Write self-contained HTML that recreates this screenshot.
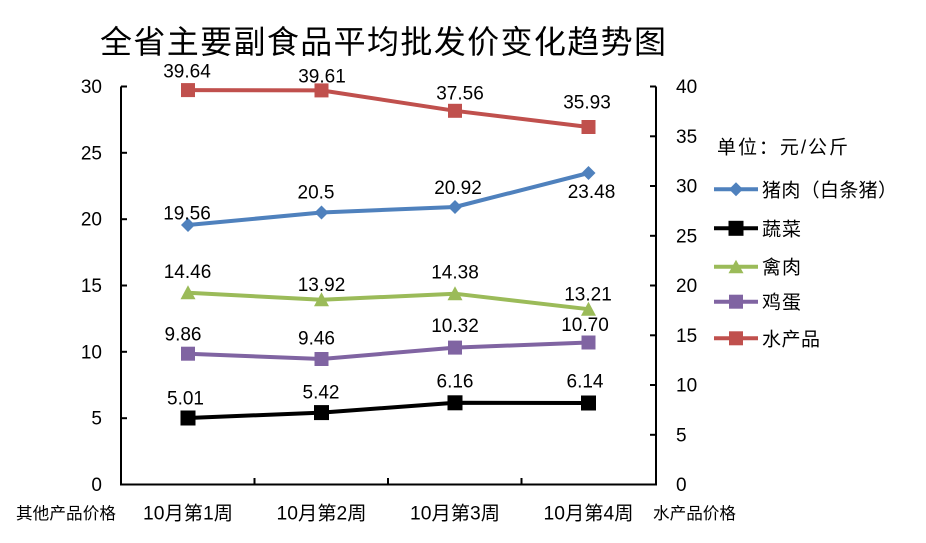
<!DOCTYPE html>
<html>
<head>
<meta charset="utf-8">
<style>
  html, body { margin: 0; padding: 0; background: #ffffff; }
  body { width: 926px; height: 543px; overflow: hidden; }
  svg { display: block; }
  .n { font-family: "Liberation Sans", "Noto Sans CJK SC", sans-serif; font-size: 19px; fill: #000; }
  .c { font-family: "Liberation Sans", "Noto Sans CJK SC", sans-serif; fill: #000; }
</style>
</head>
<body>
<svg width="926" height="543" viewBox="0 0 926 543" xmlns="http://www.w3.org/2000/svg">
  <rect width="926" height="543" fill="#ffffff"/>

  <!-- Title -->
  <text x="100" y="53" class="c" font-size="32" textLength="566" lengthAdjust="spacing">全省主要副食品平均批发价变化趋势图</text>

  <!-- Axes -->
  <g stroke="#000" stroke-width="2" fill="none">
    <line x1="121" y1="86.5" x2="121" y2="485.5"/>
    <line x1="656" y1="86.5" x2="656" y2="485.5"/>
    <line x1="120" y1="484.5" x2="657" y2="484.5"/>
    <line x1="121" y1="86.5" x2="127" y2="86.5"/>
    <line x1="121" y1="152.8" x2="127" y2="152.8"/>
    <line x1="121" y1="219.2" x2="127" y2="219.2"/>
    <line x1="121" y1="285.5" x2="127" y2="285.5"/>
    <line x1="121" y1="351.8" x2="127" y2="351.8"/>
    <line x1="121" y1="418.2" x2="127" y2="418.2"/>
    <line x1="650" y1="86.5" x2="656" y2="86.5"/>
    <line x1="650" y1="136.3" x2="656" y2="136.3"/>
    <line x1="650" y1="186" x2="656" y2="186"/>
    <line x1="650" y1="235.8" x2="656" y2="235.8"/>
    <line x1="650" y1="285.5" x2="656" y2="285.5"/>
    <line x1="650" y1="335.3" x2="656" y2="335.3"/>
    <line x1="650" y1="385" x2="656" y2="385"/>
    <line x1="650" y1="434.8" x2="656" y2="434.8"/>
    <line x1="254.5" y1="478" x2="254.5" y2="484.5"/>
    <line x1="388" y1="478" x2="388" y2="484.5"/>
    <line x1="521.5" y1="478" x2="521.5" y2="484.5"/>
  </g>

  <!-- Left axis labels -->
  <g class="n" text-anchor="end">
    <text x="102" y="93">30</text>
    <text x="102" y="159.3">25</text>
    <text x="102" y="225.7">20</text>
    <text x="102" y="292">15</text>
    <text x="102" y="358.3">10</text>
    <text x="102" y="424.7">5</text>
    <text x="102" y="491">0</text>
  </g>
  <!-- Right axis labels -->
  <g class="n" text-anchor="start">
    <text x="676" y="93">40</text>
    <text x="676" y="142.8">35</text>
    <text x="676" y="192.5">30</text>
    <text x="676" y="242.3">25</text>
    <text x="676" y="292">20</text>
    <text x="676" y="341.8">15</text>
    <text x="676" y="391.5">10</text>
    <text x="676" y="441.3">5</text>
    <text x="676" y="491">0</text>
  </g>

  <!-- Category labels -->
  <g class="c" font-size="19">
    <text x="143" y="519.5" textLength="90" lengthAdjust="spacingAndGlyphs">10月第1周</text>
    <text x="276.5" y="519.5" textLength="90" lengthAdjust="spacingAndGlyphs">10月第2周</text>
    <text x="410" y="519.5" textLength="90" lengthAdjust="spacingAndGlyphs">10月第3周</text>
    <text x="543.5" y="519.5" textLength="90" lengthAdjust="spacingAndGlyphs">10月第4周</text>
  </g>
  <text x="16" y="519" class="c" font-size="16.6" textLength="100" lengthAdjust="spacing">其他产品价格</text>
  <text x="653" y="519" class="c" font-size="16.6" textLength="83" lengthAdjust="spacing">水产品价格</text>

  <!-- Series: 水产品 (right axis) -->
  <polyline points="188,90.1 321.5,90.4 455,110.8 588.5,127" fill="none" stroke="#c0504d" stroke-width="4" stroke-linejoin="round"/>
  <g fill="#c0504d">
    <rect x="181" y="83.1" width="14" height="14"/>
    <rect x="314.5" y="83.4" width="14" height="14"/>
    <rect x="448" y="103.8" width="14" height="14"/>
    <rect x="581.5" y="120" width="14" height="14"/>
  </g>

  <!-- Series: 猪肉 -->
  <polyline points="188,225 321.5,212.5 455,207 588.5,173" fill="none" stroke="#4f81bd" stroke-width="4" stroke-linejoin="round"/>
  <g fill="#4f81bd">
    <polygon points="188,218 195,225 188,232 181,225"/>
    <polygon points="321.5,205.5 328.5,212.5 321.5,219.5 314.5,212.5"/>
    <polygon points="455,200 462,207 455,214 448,207"/>
    <polygon points="588.5,166 595.5,173 588.5,180 581.5,173"/>
  </g>

  <!-- Series: 禽肉 -->
  <polyline points="188,292.7 321.5,299.8 455,293.7 588.5,309.2" fill="none" stroke="#9bbb59" stroke-width="4" stroke-linejoin="round"/>
  <g fill="#9bbb59">
    <polygon points="188,285.2 195.5,299.2 180.5,299.2"/>
    <polygon points="321.5,292.3 329,306.3 314,306.3"/>
    <polygon points="455,286.2 462.5,300.2 447.5,300.2"/>
    <polygon points="588.5,301.7 596,315.7 581,315.7"/>
  </g>

  <!-- Series: 鸡蛋 -->
  <polyline points="188,353.7 321.5,359 455,347.6 588.5,342.5" fill="none" stroke="#8064a2" stroke-width="4" stroke-linejoin="round"/>
  <g fill="#8064a2">
    <rect x="181" y="346.7" width="14" height="14"/>
    <rect x="314.5" y="352" width="14" height="14"/>
    <rect x="448" y="340.6" width="14" height="14"/>
    <rect x="581.5" y="335.5" width="14" height="14"/>
  </g>

  <!-- Series: 蔬菜 -->
  <polyline points="188,418 321.5,412.6 455,402.8 588.5,403" fill="none" stroke="#000000" stroke-width="4" stroke-linejoin="round"/>
  <g fill="#000000">
    <rect x="180.5" y="410.5" width="15" height="15"/>
    <rect x="314" y="405.1" width="15" height="15"/>
    <rect x="447.5" y="395.3" width="15" height="15"/>
    <rect x="581" y="395.5" width="15" height="15"/>
  </g>

  <!-- Data labels -->
  <g class="n" text-anchor="middle">
    <text x="187" y="77.5">39.64</text>
    <text x="322" y="82.5">39.61</text>
    <text x="460" y="99.5">37.56</text>
    <text x="587" y="108.5">35.93</text>

    <text x="187" y="219.5">19.56</text>
    <text x="316" y="198.5">20.5</text>
    <text x="458" y="194">20.92</text>
    <text x="591.5" y="198">23.48</text>

    <text x="187.5" y="278">14.46</text>
    <text x="321.5" y="291">13.92</text>
    <text x="455" y="278.5">14.38</text>
    <text x="588" y="300.5">13.21</text>

    <text x="183" y="340.5">9.86</text>
    <text x="316.5" y="344.5">9.46</text>
    <text x="455" y="332">10.32</text>
    <text x="585" y="331">10.70</text>

    <text x="185.5" y="404.5">5.01</text>
    <text x="321" y="398.5">5.42</text>
    <text x="455" y="387.5">6.16</text>
    <text x="585" y="387.5">6.14</text>
  </g>

  <!-- Legend -->
  <text x="717" y="153.5" class="c" font-size="19" textLength="131" lengthAdjust="spacing">单位：元/公斤</text>
  <g>
    <line x1="714" y1="189.3" x2="758" y2="189.3" stroke="#4f81bd" stroke-width="4"/>
    <polygon points="736,182.3 743,189.3 736,196.3 729,189.3" fill="#4f81bd"/>
    <text x="762" y="196.3" class="c" font-size="19" textLength="135" lengthAdjust="spacing">猪肉（白条猪）</text>

    <line x1="714" y1="228.3" x2="758" y2="228.3" stroke="#000" stroke-width="4"/>
    <rect x="728.5" y="220.8" width="15" height="15" fill="#000"/>
    <text x="762" y="235.3" class="c" font-size="19" textLength="39" lengthAdjust="spacing">蔬菜</text>

    <line x1="714" y1="266.7" x2="758" y2="266.7" stroke="#9bbb59" stroke-width="4"/>
    <polygon points="736,259.7 743.5,273.2 728.5,273.2" fill="#9bbb59"/>
    <text x="762" y="273.7" class="c" font-size="19" textLength="39" lengthAdjust="spacing">禽肉</text>

    <line x1="714" y1="301.7" x2="758" y2="301.7" stroke="#8064a2" stroke-width="4"/>
    <rect x="729" y="294.7" width="14" height="14" fill="#8064a2"/>
    <text x="762" y="308.7" class="c" font-size="19" textLength="39" lengthAdjust="spacing">鸡蛋</text>

    <line x1="714" y1="338.3" x2="758" y2="338.3" stroke="#c0504d" stroke-width="4"/>
    <rect x="729" y="331.3" width="14" height="14" fill="#c0504d"/>
    <text x="762" y="345.3" class="c" font-size="19" textLength="58" lengthAdjust="spacing">水产品</text>
  </g>
</svg>
</body>
</html>
